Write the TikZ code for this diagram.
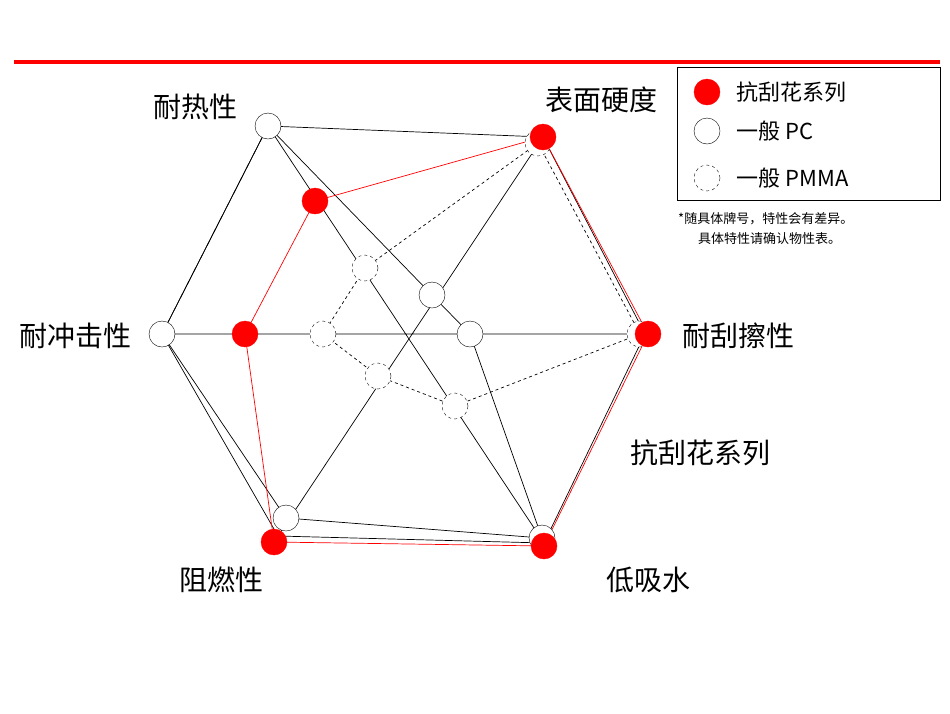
\documentclass[tikz,border=0pt]{standalone}
\usepackage{fontspec}
\setmainfont{Noto Sans CJK SC}
\begin{document}
\begin{tikzpicture}[x=1pt,y=-1pt,
 redpt/.style={circle,fill=red,draw=red,minimum size=26pt,inner sep=0pt},
 pcpt/.style={circle,fill=white,draw=black,minimum size=26pt,inner sep=0pt},
 mmpt/.style={circle,fill=white,draw=black,dashed,minimum size=26pt,inner sep=0pt},
 lab/.style={font=\fontsize{28}{30}\selectfont,inner sep=0pt},
 thin/.style={draw=black,line width=0.7pt}]
\useasboundingbox (0,0) rectangle (950,713);
\fill[red] (14,60) rectangle (940,64);
% outer / axis points
\coordinate (h) at (268,126); \coordinate (s) at (543,137); \coordinate (sc) at (645,334);
\coordinate (w) at (544,543); \coordinate (f) at (278,536); \coordinate (i) at (162,334);
% outer hexagon and axes
\draw[thin] (h)--(s)--(sc)--(w)--(f)--(i)--cycle;
\draw[thin] (h)--(w) (s)--(f) (i)--(sc);
% PMMA dashed polygon
\coordinate (m1) at (365,268); \coordinate (m2) at (538,143); \coordinate (m3) at (640,334);
\coordinate (m4) at (455,406); \coordinate (m5) at (378,376); \coordinate (m6) at (323,334);
\draw[thin,dashed] (m1)--(m2)--(m3)--(m4)--(m5)--(m6)--cycle;
% PC polygon
\coordinate (p1) at (268,126); \coordinate (p2) at (432,295); \coordinate (p3) at (470,334);
\coordinate (p4) at (542,538); \coordinate (p5) at (286,518); \coordinate (p6) at (162,334);
\draw[thin] (p1)--(p2)--(p3)--(p4)--(p5)--(p6)--cycle;
% red polygon
\coordinate (r1) at (315,201); \coordinate (r2) at (543,137); \coordinate (r3) at (648,334);
\coordinate (r4) at (544,546); \coordinate (r5) at (274,542); \coordinate (r6) at (245,334);
\draw[red,line width=0.7pt] (r1)--(r2)--(r3)--(r4)--(r5)--(r6)--cycle;
% markers
\foreach \p/\n in {m1/a1,m2/a2,m3/a3,m4/a4,m5/a5,m6/a6} \node[mmpt] (\n) at (\p) {};
\foreach \p/\n in {p1/b1,p2/b2,p3/b3,p4/b4,p5/b5,p6/b6} \node[pcpt] (\n) at (\p) {};
\foreach \p/\n in {r1/c1,r2/c2,r3/c3,r4/c4,r5/c5,r6/c6} \node[redpt] (\n) at (\p) {};
% labels
\node[lab] (l1) at (195,107) {耐热性};
\node[lab] (l2) at (601,100) {表面硬度};
\node[lab] (l3) at (75,336) {耐冲击性};
\node[lab] (l4) at (738,336) {耐刮擦性};
\node[lab] (l5) at (700,453) {抗刮花系列};
\node[lab] (l6) at (221,580) {阻燃性};
\node[lab] (l7) at (648,580) {低吸水};
% legend
\node[draw=black,line width=0.8pt,minimum width=263pt,minimum height=133pt,inner sep=0pt] (lg) at (808.5,133.5) {};
\node[redpt] (k1) at (707,92) {};
\node[pcpt] (k2) at (707,131) {};
\node[mmpt] (k3) at (707,178) {};
\node[anchor=west,font=\fontsize{22}{24}\selectfont] (t1) at (733,92) {抗刮花系列};
\node[anchor=west,font=\fontsize{22}{24}\selectfont] (t2) at (733,131) {一般 PC};
\node[anchor=west,font=\fontsize{22}{24}\selectfont] (t3) at (733,178) {一般 PMMA};
\node[anchor=west,font=\fontsize{13}{15}\selectfont,inner sep=0pt] (n1) at (678,219) {*随具体牌号，特性会有差异。};
\node[anchor=west,font=\fontsize{13}{15}\selectfont,inner sep=0pt] (n2) at (698,239) {具体特性请确认物性表。};
\end{tikzpicture}
\end{document}
